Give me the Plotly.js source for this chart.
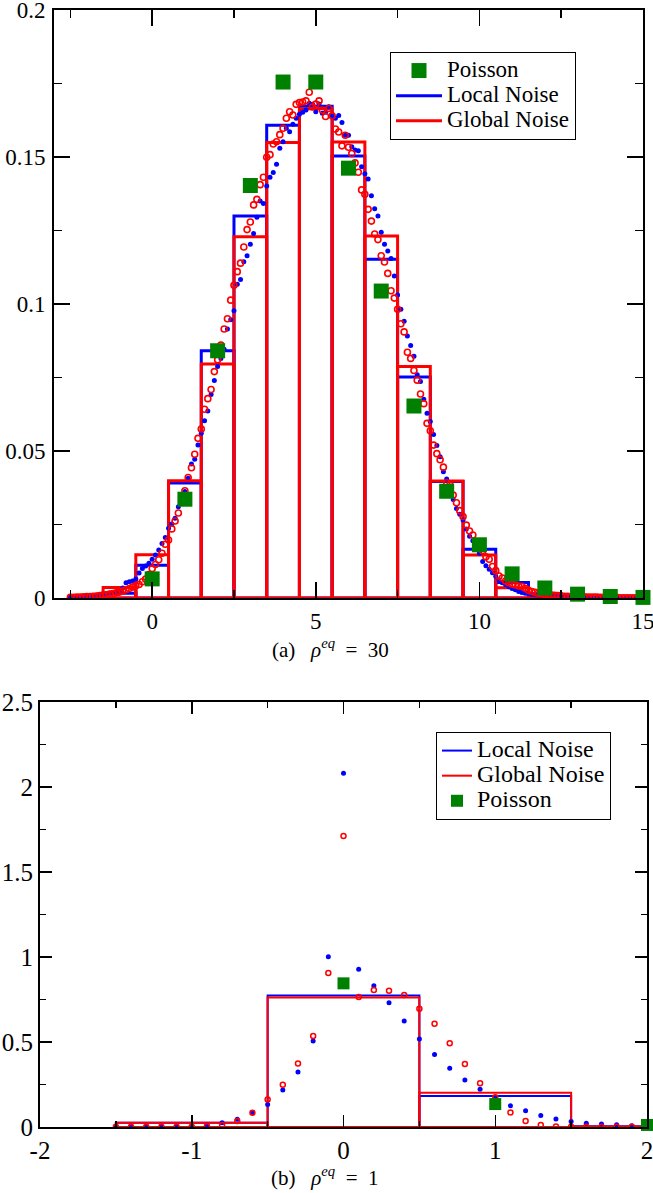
<!DOCTYPE html>
<html>
<head>
<meta charset="utf-8">
<script src="https://cdn.plot.ly/plotly-3.0.1.min.js"></script>
<style>
html,body{margin:0;padding:0;background:#fff;}
#chart{width:653px;height:1193px;}
</style>
</head>
<body>
<div id="chart"></div>
<script>
// ---------- Panel (a): rho_eq = 30 ----------
var binCentersA = [-2,-1,0,1,2,3,4,5,6,7,8,9,10,11,12,13,14];
var histLocalA  = [0.0005,0.0016,0.0111,0.0391,0.0841,0.1299,0.1608,0.1673,0.1503,0.1152,0.0752,0.0396,0.0166,0.0053,0.0014,0.0004,0.0001];
var histGlobalA = [0.0005,0.0036,0.0147,0.0399,0.0796,0.1229,0.1549,0.1664,0.1551,0.1231,0.0787,0.0398,0.0146,0.0035,0.0007,0.0003,0.0001];

var poissonXA = [0,1,2,3,4,5,6,7,8,9,10,11,12,13,14,15];
var poissonA  = [0.0065,0.0336,0.0841,0.1403,0.1755,0.1755,0.1462,0.1044,0.0653,0.0363,0.0181,0.0082,0.0034,0.0013,0.0005,0.0002];

// density points, first x = -2.5, spacing 0.1
var densStartA = -2.5, densStepA = 0.1;
var densLocalA = [
 0.0003,0.0003,0.0004,0.0004,0.0005,
 0.0006,0.0007,0.0008,0.0009,0.0010,0.0012,0.0014,0.0016,0.0018,0.0020,
 0.0022,0.0034,0.0052,0.0055,0.0058,0.0065,0.0085,0.0100,0.0109,0.0118,
 0.0132,0.0146,0.0163,0.0185,0.0206,0.0237,0.0252,0.0271,0.0310,0.0340,
 0.0362,0.0407,0.0456,0.0472,0.0520,0.0560,0.0603,0.0636,0.0692,0.0740,
 0.0787,0.0815,0.0846,0.0915,0.0946,0.0977,0.1067,0.1083,0.1144,0.1164,
 0.1203,0.1240,0.1295,0.1350,0.1342,0.1401,0.1431,0.1447,0.1475,0.1530,
 0.1552,0.1598,0.1586,0.1611,0.1632,0.1645,0.1652,0.1660,0.1683,0.1679,
 0.1654,0.1680,0.1649,0.1652,0.1671,0.1641,0.1632,0.1641,0.1617,0.1574,
 0.1574,0.1535,0.1524,0.1521,0.1467,0.1443,0.1425,0.1368,0.1324,0.1299,
 0.1244,0.1203,0.1180,0.1155,0.1095,0.1031,0.0982,0.0941,0.0891,0.0859,
 0.0822,0.0759,0.0736,0.0676,0.0628,0.0600,0.0556,0.0519,0.0480,0.0429,
 0.0405,0.0370,0.0335,0.0304,0.0285,0.0265,0.0235,0.0210,0.0195,0.0177,
 0.0152,0.0124,0.0110,0.0098,0.0086,0.0074,0.0062,0.0052,0.0045,0.0038,
 0.0032,0.0028,0.0022,0.0019,0.0016,0.0014,0.0012,0.0011,0.0010,0.0009,
 0.0008,0.0007,0.0007,0.0006,0.0006,0.0005,0.0005,0.0004,0.0004,0.0004,
 0.0003,0.0003,0.0003,0.0003,0.0002,0.0002,0.0002,0.0002,0.0002,0.0002,
 0.0001,0.0001,0.0001,0.0001,0.0001,0.0001,0.0001,0.0001,0.0001,0.0001
];
var densGlobalA = [
 0.0002,0.0002,0.0003,0.0003,0.0004,
 0.0005,0.0005,0.0006,0.0007,0.0008,0.0010,0.0011,0.0013,0.0015,0.0018,
 0.0020,0.0024,0.0028,0.0032,0.0037,0.0042,0.0046,0.0055,0.0064,0.0080,
 0.0100,0.0114,0.0130,0.0152,0.0183,0.0197,0.0235,0.0262,0.0289,0.0330,
 0.0365,0.0410,0.0443,0.0489,0.0543,0.0575,0.0642,0.0678,0.0709,0.0770,
 0.0810,0.0860,0.0915,0.0950,0.1013,0.1064,0.1110,0.1139,0.1194,0.1253,
 0.1279,0.1337,0.1356,0.1406,0.1431,0.1499,0.1508,0.1544,0.1552,0.1576,
 0.1598,0.1632,0.1654,0.1643,0.1679,0.1685,0.1687,0.1691,0.1720,0.1670,
 0.1680,0.1691,0.1660,0.1638,0.1665,0.1640,0.1595,0.1585,0.1538,0.1574,
 0.1533,0.1512,0.1480,0.1448,0.1388,0.1373,0.1322,0.1282,0.1238,0.1219,
 0.1164,0.1143,0.1104,0.1045,0.1020,0.0982,0.0933,0.0905,0.0836,0.0815,
 0.0774,0.0741,0.0694,0.0661,0.0594,0.0569,0.0520,0.0491,0.0470,0.0445,
 0.0392,0.0384,0.0350,0.0324,0.0297,0.0277,0.0248,0.0228,0.0214,0.0190,
 0.0171,0.0161,0.0140,0.0132,0.0107,0.0093,0.0075,0.0068,0.0058,0.0052,
 0.0047,0.0044,0.0041,0.0039,0.0033,0.0026,0.0022,0.0019,0.0016,0.0014,
 0.0012,0.0011,0.0010,0.0009,0.0008,0.0007,0.0006,0.0006,0.0005,0.0005,
 0.0004,0.0004,0.0004,0.0003,0.0003,0.0003,0.0003,0.0002,0.0002,0.0002,
 0.0002,0.0002,0.0002,0.0001,0.0001,0.0001,0.0001,0.0001,0.0001,0.0001
];

// ---------- Panel (b): rho_eq = 1 ----------
var binCentersB = [-1,0,1,2];
var histLocalB  = [0.025,0.773,0.182,0.005];
var histGlobalB = [0.025,0.761,0.202,0.003];

var poissonXB = [0,1,2];
var poissonB  = [0.845,0.135,0.012];

var densStartB = -1.5, densStepB = 0.1;
var densLocalB = [
 0.002,0.002,0.002,0.002,0.002,0.003,0.010,0.025,0.045,0.084,
 0.133,0.217,0.323,0.506,1.002,2.081,0.928,0.831,0.731,0.624,
 0.518,0.427,0.345,0.276,0.222,0.165,0.125,0.096,0.067,0.047,
 0.032,0.022,0.018,0.013,0.008,0.005
];
var densGlobalB = [
 0.001,0.001,0.001,0.001,0.001,0.002,0.004,0.012,0.035,0.084,
 0.162,0.248,0.374,0.535,0.906,1.712,0.765,0.806,0.802,0.776,
 0.696,0.608,0.492,0.371,0.257,0.175,0.086,0.035,0.012,0.003,
 0.001,0.001,0.001,0.001,0.001,0.001
];

var xTickValsB = [-2,-1,0,1,2];
var xTickTextB = ['-2','-1','0','1','2'];

var names = {poisson:'Poisson', local:'Local Noise', global:'Global Noise'};
var captionA = '(a)&nbsp;&nbsp;&nbsp;<i>ρ</i><sup><i>eq</i></sup>&nbsp;&nbsp;=&nbsp;&nbsp;30';
var captionB = '(b)&nbsp;&nbsp;&nbsp;<i>ρ</i><sup><i>eq</i></sup>&nbsp;&nbsp;=&nbsp;&nbsp;1';
var BLUE = '#0000ff', RED = '#ff0000', GREEN = '#008000';
var FONT = 'Liberation Serif';

// legend label text is set larger than the legend row pitch (as in the original figure)
function lg(name, px){ return '<span style="font-size:' + px + 'px">' + name + '</span>'; }

var traces = [
 // panel a histograms
 {type:'bar', x:binCentersA, y:histLocalA, width:1, xaxis:'x', yaxis:'y', showlegend:false,
  marker:{color:'rgba(0,0,0,0)', line:{color:BLUE, width:3}}},
 {type:'bar', x:binCentersA, y:histGlobalA, width:1, xaxis:'x', yaxis:'y', showlegend:false,
  marker:{color:'rgba(0,0,0,0)', line:{color:RED, width:3}}},
 // panel a densities
 {type:'scatter', mode:'markers', x0:densStartA, dx:densStepA, y:densLocalA, xaxis:'x', yaxis:'y', showlegend:false,
  marker:{symbol:'circle', size:5, color:BLUE}},
 {type:'scatter', mode:'markers', x0:densStartA, dx:densStepA, y:densGlobalA, xaxis:'x', yaxis:'y', showlegend:false,
  marker:{symbol:'circle-open', size:6, color:RED, line:{width:1.6, color:RED}}},
 // panel a poisson
 {type:'scatter', mode:'markers', x:poissonXA, y:poissonA, xaxis:'x', yaxis:'y', name:lg(names.poisson,23),
  legend:'legend', legendrank:1, cliponaxis:false,
  marker:{symbol:'square', size:15, color:GREEN}},
 {type:'scatter', mode:'lines', x:[null], y:[null], xaxis:'x', yaxis:'y', name:lg(names.local,23),
  legend:'legend', legendrank:2, line:{color:BLUE, width:3}},
 {type:'scatter', mode:'lines', x:[null], y:[null], xaxis:'x', yaxis:'y', name:lg(names.global,23),
  legend:'legend', legendrank:3, line:{color:RED, width:3}},

 // panel b histograms
 {type:'bar', x:binCentersB, y:histLocalB, width:1, xaxis:'x2', yaxis:'y2', showlegend:false,
  marker:{color:'rgba(0,0,0,0)', line:{color:BLUE, width:2}}},
 {type:'bar', x:binCentersB, y:histGlobalB, width:1, xaxis:'x2', yaxis:'y2', showlegend:false,
  marker:{color:'rgba(0,0,0,0)', line:{color:RED, width:2}}},
 {type:'scatter', mode:'markers', x0:densStartB, dx:densStepB, y:densLocalB, xaxis:'x2', yaxis:'y2', showlegend:false,
  marker:{symbol:'circle', size:5, color:BLUE}},
 {type:'scatter', mode:'markers', x0:densStartB, dx:densStepB, y:densGlobalB, xaxis:'x2', yaxis:'y2', showlegend:false,
  marker:{symbol:'circle-open', size:5, color:RED, line:{width:1.5, color:RED}}},
 {type:'scatter', mode:'markers', x:poissonXB, y:poissonB, xaxis:'x2', yaxis:'y2', name:lg(names.poisson,24),
  legend:'legend2', legendrank:3, cliponaxis:false,
  marker:{symbol:'square', size:12, color:GREEN}},
 {type:'scatter', mode:'lines', x:[null], y:[null], xaxis:'x2', yaxis:'y2', name:lg(names.local,24),
  legend:'legend2', legendrank:1, line:{color:BLUE, width:2}},
 {type:'scatter', mode:'lines', x:[null], y:[null], xaxis:'x2', yaxis:'y2', name:lg(names.global,24),
  legend:'legend2', legendrank:2, line:{color:RED, width:2}}
];

function axisBase(extra){
  var a = {showline:true, linecolor:'#000', linewidth:2, mirror:'ticks', showgrid:false, zeroline:false,
    ticks:'inside', tickcolor:'#000', tickwidth:1.5, fixedrange:true, ticklabeloverflow:'allow'};
  for (var k in extra) a[k] = extra[k];
  return a;
}

var layout = {
  width:653, height:1193,
  margin:{l:40, r:6, t:10, b:66},
  paper_bgcolor:'#fff', plot_bgcolor:'#fff',
  barmode:'overlay', bargap:0,
  font:{family:FONT, color:'#000'},
  showlegend:true,
  xaxis: axisBase({domain:[0.0231,0.9934], range:[-3,15], anchor:'y', tickmode:'linear', tick0:0, dtick:5,
    ticklen:16, tickfont:{family:FONT, size:23, color:'#000'}, ticklabelstandoff:1,
    minor:{tickmode:'linear', tick0:0, dtick:2.5, ticks:'inside', ticklen:8, tickwidth:1.5, tickcolor:'#000'}}),
  yaxis: axisBase({domain:[0.4736,1], range:[0,0.2], anchor:'x', tickmode:'linear', tick0:0, dtick:0.05,
    ticklen:16, tickfont:{family:FONT, size:23, color:'#000'}, ticklabelstandoff:2,
    minor:{tickmode:'linear', tick0:0, dtick:0.025, ticks:'inside', ticklen:8, tickwidth:1.5, tickcolor:'#000'}}),
  xaxis2: axisBase({domain:[0,1], range:[-2,2], anchor:'y2', tickmode:'array', tickvals:xTickValsB, ticktext:xTickTextB,
    ticklen:12, tickfont:{family:FONT, size:25, color:'#000'}, ticklabelstandoff:0,
    minor:{tickmode:'linear', tick0:0, dtick:0.5, ticks:'inside', ticklen:6, tickwidth:1.5, tickcolor:'#000'}}),
  yaxis2: axisBase({domain:[0,0.3805], range:[0,2.5], anchor:'x2', tickmode:'linear', tick0:0, dtick:0.5,
    ticklen:12, tickfont:{family:FONT, size:25, color:'#000'}, ticklabelstandoff:0,
    minor:{tickmode:'linear', tick0:0, dtick:0.25, ticks:'inside', ticklen:6, tickwidth:1.5, tickcolor:'#000'}}),
  legend:{x:0.5766, y:0.9624, xanchor:'left', yanchor:'top', bgcolor:'#fff', bordercolor:'#000', borderwidth:1,
    itemwidth:46, font:{family:FONT, size:17, color:'#000'}, traceorder:'normal'},
  legend2:{x:0.6524, y:0.3536, xanchor:'left', yanchor:'top', bgcolor:'#fff', bordercolor:'#000', borderwidth:1,
    itemwidth:30, font:{family:FONT, size:17, color:'#000'}, traceorder:'normal'},
  annotations:[
    {xref:'paper', yref:'paper', x:0.4778, y:0.4288, xanchor:'center', yanchor:'middle', showarrow:false,
     text:captionA, font:{family:FONT, size:21, color:'#000'}},
    {xref:'paper', yref:'paper', x:0.4695, y:-0.0439, xanchor:'center', yanchor:'middle', showarrow:false,
     text:captionB, font:{family:FONT, size:21, color:'#000'}}
  ]
};

Plotly.newPlot('chart', traces, layout, {staticPlot:true, displayModeBar:false});
</script>
</body>
</html>
